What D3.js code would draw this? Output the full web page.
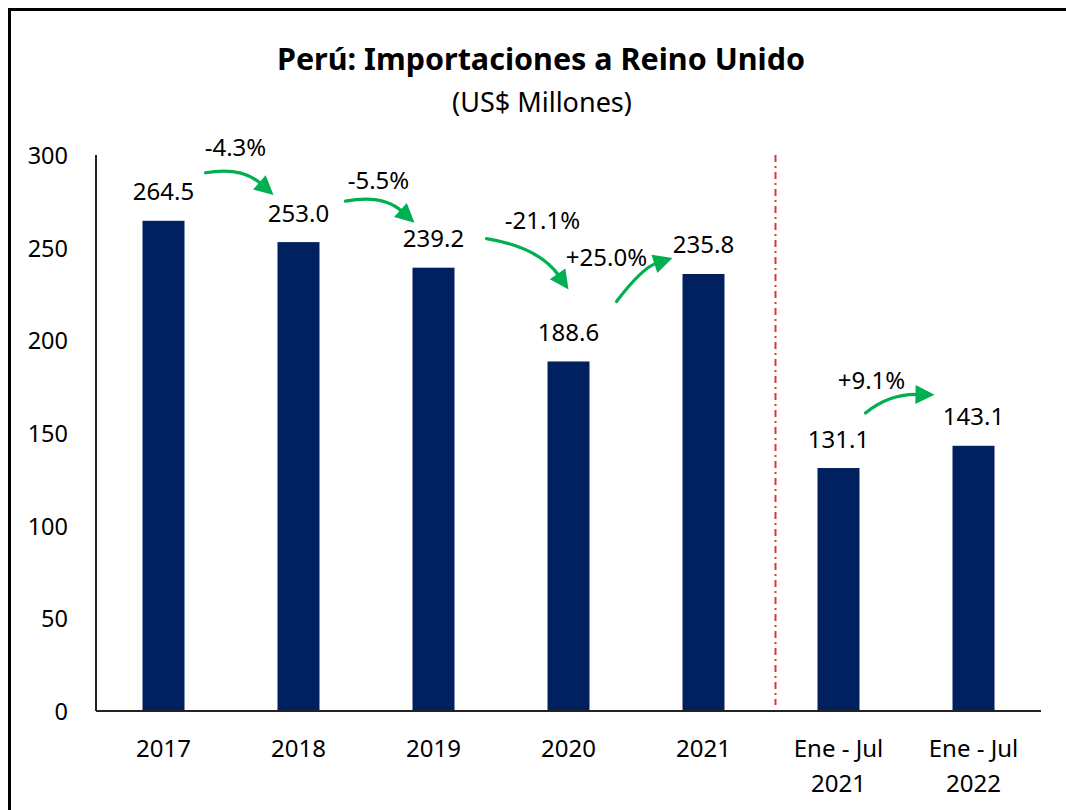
<!DOCTYPE html>
<html>
<head>
<meta charset="utf-8">
<script src="https://cdn.jsdelivr.net/npm/d3@7"></script>
<style>
  body { margin: 0; background: #fff; }
  svg { display: block; font-family: "Noto Sans", sans-serif; }
</style>
</head>
<body>
<div id="chart"></div>
<script>
const fig_width = 1066
const fig_height = 810

// values
const categories = ["2017", "2018", "2019", "2020", "2021", "Ene - Jul 2021", "Ene - Jul 2022"]
const values = [264.5, 253.0, 239.2, 188.6, 235.8, 131.1, 143.1]
const yTicks = [0, 50, 100, 150, 200, 250, 300]
const changeLabels = ["-4.3%", "-5.5%", "-21.1%", "+25.0%", "+9.1%"]
const changeFrom = [0, 1, 2, 3, 5]

// hand placement of the curved arrows (offsets from the bars they join)
// s: start offset from bar top of source, t: tip offset from bar top of target,
// c: control point offset from start, l: label offset from start
const arrowLayout = [
    {s: [42, -48], t: [-25, -47], c: [42, -1], l: [30, -26]},
    {s: [47, -41], t: [-19, -45], c: [43, -2], l: [33, -22]},
    {s: [53, -29], t: [0, -72], c: [57, 15], l: [56, -19]},
    {s: [48, -60], t: [-31, -16], c: [33, -36], l: [-10, -45]},
    {s: [27, -55], t: [-39, -51], c: [31, -19], l: [6, -34]}
]

const barColour = "#002060"
const arrowColour = "#00B050"

let svg = d3.select("#chart")
    .append("svg")
    .attr("width", fig_width)
    .attr("height", fig_height)

// frame: only top and left edges are visible in the picture
svg.append("rect")
    .attr("x", 9.5).attr("y", 9.5)
    .attr("width", 1200).attr("height", 1000)
    .attr("fill", "none")
    .attr("stroke", "#000")
    .attr("stroke-width", 3)

let x = d3.scaleBand()
    .domain(categories)
    .range([96, 1041])
    .paddingInner(0.689)
    .paddingOuter(0.689 / 2)

let y = d3.scaleLinear()
    .domain([0, 300])
    .range([711, 155])

let cx = d => x(d) + x.bandwidth() / 2

// title
svg.append("text")
    .attr("x", 541).attr("y", 58)
    .attr("text-anchor", "middle")
    .attr("dominant-baseline", "central")
    .style("font-size", "30.5px")
    .style("font-weight", "bold")
    .text("Perú: Importaciones a Reino Unido")

svg.append("text")
    .attr("x", 542).attr("y", 101)
    .attr("text-anchor", "middle")
    .attr("dominant-baseline", "central")
    .style("font-size", "27px")
    .text("(US$ Millones)")

// y axis: line plus labels, no tick marks
svg.append("line")
    .attr("x1", 96).attr("x2", 96)
    .attr("y1", y(300)).attr("y2", y(0))
    .attr("stroke", "#222").attr("stroke-width", 2)

svg.selectAll("text.ytick")
    .data(yTicks)
    .join("text")
    .attr("class", "ytick")
    .attr("x", 68)
    .attr("y", d => y(d))
    .attr("text-anchor", "end")
    .attr("dominant-baseline", "central")
    .style("font-size", "23.5px")
    .text(d => d)

// separator between full years and partial periods
let sepX = (cx("2021") + cx("Ene - Jul 2021")) / 2 + 4.5
svg.append("line")
    .attr("x1", sepX).attr("x2", sepX)
    .attr("y1", y(300)).attr("y2", y(0) - 6)
    .attr("stroke", "#d9363e")
    .attr("stroke-width", 2)
    .attr("stroke-dasharray", "7,4,2,4")

// bars
svg.selectAll("rect.bar")
    .data(categories)
    .join("rect")
    .attr("class", "bar")
    .attr("x", d => x(d))
    .attr("width", x.bandwidth())
    .attr("y", (d, i) => y(values[i]))
    .attr("height", (d, i) => y(0) - y(values[i]))
    .attr("fill", barColour)

// x axis line
svg.append("line")
    .attr("x1", 96).attr("x2", 1041)
    .attr("y1", y(0)).attr("y2", y(0))
    .attr("stroke", "#222").attr("stroke-width", 2)

// category labels, "Ene - Jul" ones wrap on two lines
svg.selectAll("text.xtick")
    .data(categories)
    .join("text")
    .attr("class", "xtick")
    .attr("text-anchor", "middle")
    .style("font-size", "24px")
    .each(function(d) {
        let lines = d.startsWith("Ene") ? [d.slice(0, d.lastIndexOf(" ")), d.slice(d.lastIndexOf(" ") + 1)] : [d]
        d3.select(this).selectAll("tspan")
            .data(lines)
            .join("tspan")
            .attr("x", cx(d))
            .attr("y", (l, j) => 747 + j * 35)
            .attr("dominant-baseline", "central")
            .text(l => l)
    })

// value labels above bars
svg.selectAll("text.vlabel")
    .data(categories)
    .join("text")
    .attr("class", "vlabel")
    .attr("x", d => cx(d))
    .attr("y", (d, i) => y(values[i]) - 30)
    .attr("text-anchor", "middle")
    .attr("dominant-baseline", "central")
    .style("font-size", "24px")
    .text((d, i) => values[i].toFixed(1))

// curved growth arrows
let headLen = 19
let headHalf = 9.5
changeLabels.forEach((lab, k) => {
    let i = changeFrom[k]
    let lay = arrowLayout[k]
    let S = [cx(categories[i]) + lay.s[0], y(values[i]) + lay.s[1]]
    let T = [cx(categories[i + 1]) + lay.t[0], y(values[i + 1]) + lay.t[1]]
    let C = [S[0] + lay.c[0], S[1] + lay.c[1]]
    let dx = T[0] - C[0], dy = T[1] - C[1]
    let len = Math.hypot(dx, dy)
    let ux = dx / len, uy = dy / len
    let B = [T[0] - ux * headLen, T[1] - uy * headLen]
    let Cs = [C[0] - ux * headLen * 0.4, C[1] - uy * headLen * 0.4]

    svg.append("path")
        .attr("d", `M${S[0]},${S[1]} Q${Cs[0]},${Cs[1]} ${B[0] + ux * 2},${B[1] + uy * 2}`)
        .attr("fill", "none")
        .attr("stroke", arrowColour)
        .attr("stroke-width", 3.2)
        .attr("stroke-linecap", "round")

    svg.append("path")
        .attr("d", `M${T[0]},${T[1]} L${B[0] - uy * headHalf},${B[1] + ux * headHalf} L${B[0] + uy * headHalf},${B[1] - ux * headHalf}Z`)
        .attr("fill", arrowColour)

    svg.append("text")
        .attr("x", S[0] + lay.l[0])
        .attr("y", S[1] + lay.l[1])
        .attr("text-anchor", "middle")
        .attr("dominant-baseline", "central")
        .style("font-size", "24px")
        .text(lab)
})
</script>
</body>
</html>
